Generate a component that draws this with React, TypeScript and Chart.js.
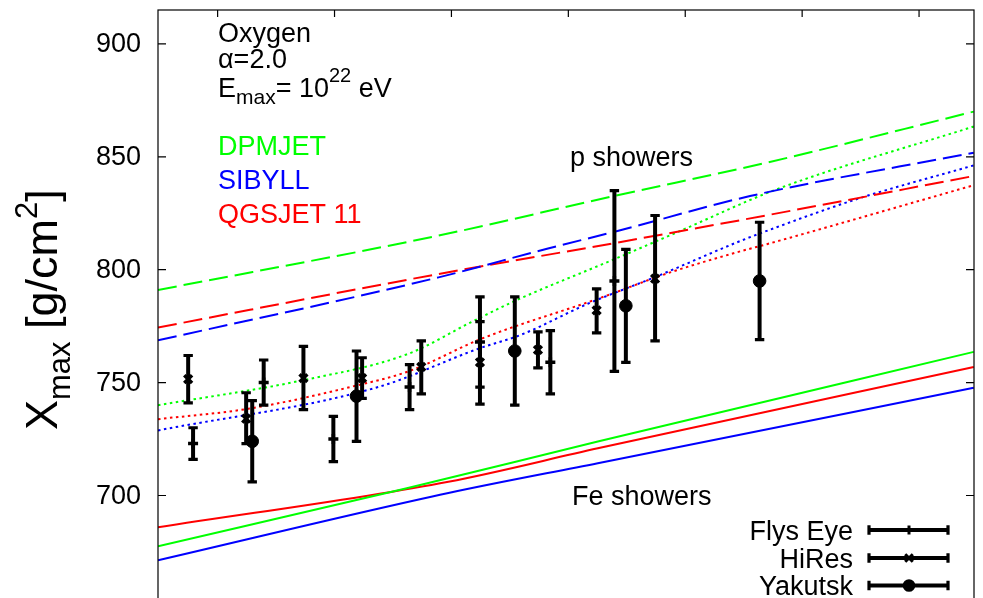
import React, { useEffect, useRef } from "react";
import { Chart, registerables } from "chart.js";

Chart.register(...registerables);

// ---------- axes ----------
const X_MIN = 17.245;
const X_MAX = 20.735;
const Y_MIN = 640;
const Y_MAX = 915;
const X_TICKS = [17.5, 18, 18.5, 19, 19.5, 20, 20.5];
const Y_TICKS = [700, 750, 800, 850, 900];

// ---------- data: Fly's Eye ----------
const FLYS_X = [17.395, 17.697, 17.995, 18.321, 18.622, 18.923, 19.197];
const FLYS_Y = [723, 750, 725, 748, 768, 759, 795];
const FLYS_HI = [730, 760, 735, 758, 788, 773, 835];
const FLYS_LO = [716, 740, 715, 738, 748, 745, 755];

// ---------- data: HiRes ----------
const HIRES_X = [17.374, 17.622, 17.867, 18.118, 18.371, 18.622, 18.87, 19.121, 19.371];
const HIRES_Y = [751.5, 734, 752, 752, 757, 759, 764.5, 782, 796];
const HIRES_HI = [762, 745.5, 766, 761, 768.5, 777, 772.5, 791.5, 824];
const HIRES_LO = [741, 723, 738, 743, 745, 740.5, 756.5, 772, 768.5];

// ---------- data: Yakutsk ----------
const YAK_X = [17.648, 18.094, 18.771, 19.246, 19.818];
const YAK_Y = [724, 744, 764, 784, 795];
const YAK_HI = [742, 764, 788, 809, 821];
const YAK_LO = [706, 724, 740, 759, 769];

// ---------- model curves: p showers (dashed) ----------
const DPM_P_X = [17.245, 18.445, 19.198, 19.849, 20.734];
const DPM_P_Y = [791.0, 815.1, 832.7, 847.4, 870.0];
const SIB_P_X = [17.245, 18.445, 18.913, 19.198, 19.777, 20.734];
const SIB_P_Y = [768.7, 796.6, 809.4, 816.8, 832.6, 851.8];
const QGS_P_X = [17.245, 18.445, 19.198, 19.849, 20.734];
const QGS_P_Y = [774.4, 798.1, 811.8, 824.1, 841.5];

// ---------- model curves: oxygen (dotted) ----------
const DPM_O_X = [17.245, 17.863, 18.317, 18.585, 18.772, 19.198, 19.479, 19.891, 20.734];
const DPM_O_Y = [740.0, 751.0, 762.8, 776.8, 786.2, 804.7, 817.2, 835.6, 863.4];
const SIB_O_X = [17.245, 18.189, 18.615, 18.798, 19.083, 19.368, 19.721, 19.849, 20.232, 20.734];
const SIB_O_Y = [728.8, 748.1, 765.0, 771.2, 784.9, 796.6, 812.1, 817.2, 831.2, 846.2];
const QGS_O_X = [17.245, 17.636, 18.09, 18.317, 18.628, 19.126, 19.436, 19.721, 19.849, 20.734];
const QGS_O_Y = [733.8, 738.5, 748.6, 755.0, 769.4, 787.1, 798.8, 807.7, 811.3, 837.4];

// ---------- model curves: Fe showers (solid) ----------
const DPM_FE_X = [17.245, 18.309, 19.126, 20.734];
const DPM_FE_Y = [677.5, 703.2, 723.9, 763.6];
const SIB_FE_X = [17.245, 18.487, 19.126, 20.734];
const SIB_FE_Y = [671.3, 701.1, 714.3, 747.7];
const QGS_FE_X = [17.245, 18.487, 19.126, 20.734];
const QGS_FE_Y = [685.9, 706.1, 720.9, 756.9];

const GREEN = "#00ff00";
const BLUE = "#0000ff";
const RED = "#ff0000";
const FONT = '"Liberation Sans", Arial, Helvetica, sans-serif';

const pts = (xs: number[], ys: number[]) => xs.map((x, i) => ({ x, y: ys[i] }));

function lineDs(label: string, xs: number[], ys: number[], color: string, kind: "dash" | "dot" | "solid") {
  return {
    label,
    data: pts(xs, ys),
    showLine: true,
    borderColor: color,
    backgroundColor: color,
    borderWidth: 2,
    borderDash: kind === "dash" ? [19, 7] : kind === "dot" ? [2.5, 3.5] : [],
    pointRadius: 0,
    pointHoverRadius: 0,
    cubicInterpolationMode: "monotone",
    fill: false,
    order: 2,
  } as any;
}

function pointDs(label: string, xs: number[], ys: number[], lo: number[], hi: number[], style: string, radius: number) {
  return {
    label,
    data: pts(xs, ys),
    showLine: false,
    pointStyle: style,
    pointRadius: radius,
    pointHoverRadius: radius,
    pointBorderWidth: style === "circle" ? 1 : 3.5,
    borderColor: "#000",
    backgroundColor: "#000",
    errLo: lo,
    errHi: hi,
    order: 0,
  } as any;
}

function drawRich(ctx: CanvasRenderingContext2D, parts: { t: string; s: number; dy: number }[], x: number, y: number) {
  let cx = x;
  for (const p of parts) {
    ctx.font = `${p.s}px ${FONT}`;
    ctx.fillText(p.t, cx, y + p.dy);
    cx += ctx.measureText(p.t).width;
  }
}

function marker(ctx: CanvasRenderingContext2D, style: string, x: number, y: number) {
  ctx.save();
  ctx.strokeStyle = "#000";
  ctx.fillStyle = "#000";
  ctx.lineWidth = 3;
  ctx.beginPath();
  if (style === "cross") {
    ctx.moveTo(x, y - 4.5);
    ctx.lineTo(x, y + 4.5);
    ctx.stroke();
  } else if (style === "crossRot") {
    const r = 3.8;
    ctx.moveTo(x - r, y - r);
    ctx.lineTo(x + r, y + r);
    ctx.moveTo(x - r, y + r);
    ctx.lineTo(x + r, y - r);
    ctx.stroke();
  } else {
    ctx.arc(x, y, 6.3, 0, Math.PI * 2);
    ctx.fill();
  }
  ctx.restore();
}

const framePlugin = {
  id: "frame",
  afterDraw(chart: any) {
    const { ctx, chartArea: a, scales } = chart;
    ctx.save();
    ctx.strokeStyle = "#000";
    ctx.lineWidth = 1.2;
    ctx.strokeRect(a.left, a.top, a.right - a.left, a.bottom - a.top);
    ctx.beginPath();
    for (const v of X_TICKS) {
      const px = scales.x.getPixelForValue(v);
      ctx.moveTo(px, a.top);
      ctx.lineTo(px, a.top + 7);
      ctx.moveTo(px, a.bottom);
      ctx.lineTo(px, a.bottom - 7);
    }
    for (const v of Y_TICKS) {
      const py = scales.y.getPixelForValue(v);
      ctx.moveTo(a.left, py);
      ctx.lineTo(a.left + 8, py);
      ctx.moveTo(a.right, py);
      ctx.lineTo(a.right - 8, py);
    }
    ctx.stroke();
    // y tick labels
    ctx.fillStyle = "#000";
    ctx.font = `27px ${FONT}`;
    ctx.textAlign = "right";
    ctx.textBaseline = "middle";
    for (const v of Y_TICKS) {
      const py = scales.y.getPixelForValue(v);
      ctx.fillText(String(v), a.left - 17, py + 1);
    }
    ctx.restore();
  },
};

const errorBarPlugin = {
  id: "errbars",
  afterDatasetsDraw(chart: any) {
    const { ctx, chartArea: a, scales } = chart;
    ctx.save();
    ctx.beginPath();
    ctx.rect(a.left, a.top, a.right - a.left, a.bottom - a.top);
    ctx.clip();
    ctx.strokeStyle = "#000";
    chart.data.datasets.forEach((ds: any) => {
      if (!ds.errLo) return;
      ds.data.forEach((p: any, i: number) => {
        const px = scales.x.getPixelForValue(p.x);
        const top = scales.y.getPixelForValue(ds.errHi[i]);
        const bot = scales.y.getPixelForValue(ds.errLo[i]);
        ctx.lineWidth = 4;
        ctx.beginPath();
        ctx.moveTo(px, top);
        ctx.lineTo(px, bot);
        ctx.stroke();
        ctx.lineWidth = 3.2;
        ctx.beginPath();
        ctx.moveTo(px - 4.7, top);
        ctx.lineTo(px + 4.7, top);
        ctx.moveTo(px - 4.7, bot);
        ctx.lineTo(px + 4.7, bot);
        ctx.stroke();
      });
    });
    ctx.restore();
  },
};

const annotationPlugin = {
  id: "annotations",
  afterDraw(chart: any) {
    const ctx: CanvasRenderingContext2D = chart.ctx;
    ctx.save();
    ctx.textAlign = "left";
    ctx.textBaseline = "alphabetic";
    ctx.fillStyle = "#000";
    ctx.font = `27px ${FONT}`;
    ctx.fillText("Oxygen", 218, 42);
    ctx.fillText("\u03b1=2.0", 218, 68);
    drawRich(
      ctx,
      [
        { t: "E", s: 27, dy: 0 },
        { t: "max", s: 21, dy: 7.5 },
        { t: "= 10", s: 27, dy: 0 },
        { t: "22", s: 20, dy: -14.5 },
        { t: " eV", s: 27, dy: 0 },
      ],
      218,
      96.5
    );
    ctx.font = `27px ${FONT}`;
    ctx.fillStyle = GREEN;
    ctx.fillText("DPMJET", 218, 155);
    ctx.fillStyle = BLUE;
    ctx.fillText("SIBYLL", 218, 188.5);
    ctx.fillStyle = RED;
    ctx.fillText("QGSJET 11", 218, 222.5);
    ctx.fillStyle = "#000";
    ctx.fillText("p showers", 570, 166);
    ctx.fillText("Fe showers", 572, 505);

    // legend
    const items = [
      { t: "Flys Eye", m: "cross", y: 530 },
      { t: "HiRes", m: "crossRot", y: 558 },
      { t: "Yakutsk", m: "circle", y: 585.5 },
    ];
    ctx.textAlign = "right";
    for (const it of items) {
      ctx.fillStyle = "#000";
      ctx.font = `27px ${FONT}`;
      ctx.fillText(it.t, 853, it.y + 9.5);
      ctx.strokeStyle = "#000";
      ctx.lineWidth = 4;
      ctx.beginPath();
      ctx.moveTo(869, it.y);
      ctx.lineTo(948, it.y);
      ctx.stroke();
      ctx.lineWidth = 3.2;
      ctx.beginPath();
      ctx.moveTo(869, it.y - 4.7);
      ctx.lineTo(869, it.y + 4.7);
      ctx.moveTo(948, it.y - 4.7);
      ctx.lineTo(948, it.y + 4.7);
      ctx.stroke();
      marker(ctx, it.m, 909, it.y);
    }

    // y-axis title
    ctx.save();
    ctx.translate(57, 430);
    ctx.rotate(-Math.PI / 2);
    ctx.textAlign = "left";
    ctx.fillStyle = "#000";
    drawRich(
      ctx,
      [
        { t: "X", s: 45, dy: 0 },
        { t: "max", s: 31, dy: 13 },
        { t: " [g/cm", s: 45, dy: 0 },
        { t: "2", s: 31, dy: -20 },
        { t: "]", s: 45, dy: 0 },
      ],
      0,
      0
    );
    ctx.restore();
    ctx.restore();
  },
};

export default function App() {
  const ref = useRef<HTMLCanvasElement>(null);
  useEffect(() => {
    const canvas = ref.current!;
    const H = canvas.height;
    const chart = new Chart(canvas, {
      type: "scatter",
      data: {
        datasets: [
          pointDs("Flys Eye", FLYS_X, FLYS_Y, FLYS_LO, FLYS_HI, "cross", 5),
          pointDs("HiRes", HIRES_X, HIRES_Y, HIRES_LO, HIRES_HI, "crossRot", 5.5),
          pointDs("Yakutsk", YAK_X, YAK_Y, YAK_LO, YAK_HI, "circle", 6.3),
          lineDs("DPMJET p", DPM_P_X, DPM_P_Y, GREEN, "dash"),
          lineDs("SIBYLL p", SIB_P_X, SIB_P_Y, BLUE, "dash"),
          lineDs("QGSJET p", QGS_P_X, QGS_P_Y, RED, "dash"),
          lineDs("DPMJET O", DPM_O_X, DPM_O_Y, GREEN, "dot"),
          lineDs("SIBYLL O", SIB_O_X, SIB_O_Y, BLUE, "dot"),
          lineDs("QGSJET O", QGS_O_X, QGS_O_Y, RED, "dot"),
          lineDs("DPMJET Fe", DPM_FE_X, DPM_FE_Y, GREEN, "solid"),
          lineDs("SIBYLL Fe", SIB_FE_X, SIB_FE_Y, BLUE, "solid"),
          lineDs("QGSJET Fe", QGS_FE_X, QGS_FE_Y, RED, "solid"),
        ],
      },
      options: {
        responsive: false,
        animation: false,
        devicePixelRatio: 1,
        layout: { padding: { top: 10, left: 0, right: 5, bottom: 0 } },
        plugins: {
          legend: { display: false },
          tooltip: { enabled: false },
        },
        events: [],
        scales: {
          x: {
            type: "linear",
            min: X_MIN,
            max: X_MAX,
            grid: { display: false },
            border: { display: false },
            ticks: { display: false },
            afterBuildTicks: (s: any) => {
              s.ticks = X_TICKS.map((v) => ({ value: v }));
            },
            afterFit: (s: any) => {
              s.height = H - (10 + (Y_MAX - Y_MIN) * (113.333 / 50));
              s.paddingLeft = 0;
              s.paddingRight = 0;
            },
          },
          y: {
            type: "linear",
            min: Y_MIN,
            max: Y_MAX,
            grid: { display: false },
            border: { display: false },
            ticks: { display: false },
            afterBuildTicks: (s: any) => {
              s.ticks = Y_TICKS.map((v) => ({ value: v }));
            },
            afterFit: (s: any) => {
              s.width = 158;
              s.paddingTop = 0;
              s.paddingBottom = 0;
            },
          },
        },
      } as any,
      plugins: [errorBarPlugin, framePlugin, annotationPlugin],
    });
    return () => chart.destroy();
  }, []);
  return (
    <div
      style={{
        position: "fixed",
        left: 0,
        top: 0,
        width: 983,
        height: 598,
        overflow: "hidden",
        background: "#fff",
      }}
    >
      <canvas ref={ref} width={983} height={640} style={{ display: "block", width: 983, height: 640 }} />
    </div>
  );
}
